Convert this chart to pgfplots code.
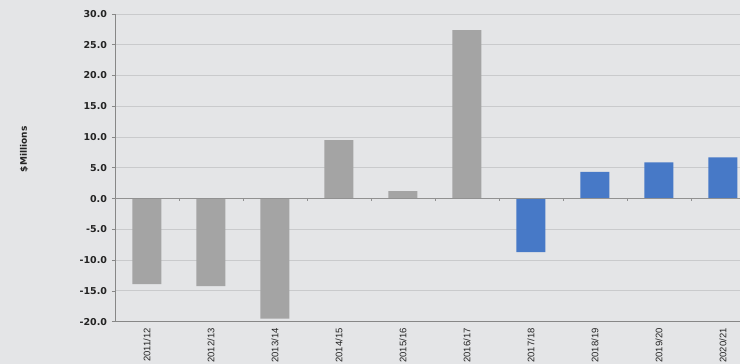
\documentclass[border=0pt]{standalone}
\usepackage{pgfplots}
\pgfplotsset{compat=1.18}
\usepackage{fontspec}
\setmainfont{Liberation Sans}
\newfontfamily\tickfont{DejaVu Sans}

\definecolor{bg}{RGB}{228,229,231}
\definecolor{gridc}{RGB}{201,202,204}
\definecolor{barg}{RGB}{164,164,164}
\definecolor{barb}{RGB}{71,121,199}
\definecolor{axisc}{RGB}{135,135,135}
\definecolor{zeroc}{RGB}{145,145,145}
\definecolor{txt}{RGB}{35,35,35}

\begin{document}
\begin{tikzpicture}
\fill[bg] (0pt,0pt) rectangle (740pt,364pt);
\useasboundingbox (0pt,0pt) rectangle (740pt,364pt);
\begin{axis}[
  at={(115pt,42.3pt)}, anchor=south west,
  scale only axis, width=625pt, height=307.7pt,
  xmin=-0.5, xmax=9.266, ymin=-20, ymax=30,
  axis x line*=bottom, axis y line*=left,
  axis line style={axisc, line width=0.9pt},
  ybar, bar width=29pt,
  ytick={-20,-15,...,30},
  yticklabels={-20.0,-15.0,-10.0,-5.0,0.0,5.0,10.0,15.0,20.0,25.0,30.0},
  yticklabel style={font=\tickfont\bfseries\fontsize{9.5}{10}\selectfont, text=txt, xshift=-1.5pt},
  xtick={0,...,9},
  xticklabels={2011/12,2012/13,2013/14,2014/15,2015/16,2016/17,2017/18,2018/19,2019/20,2020/21},
  xticklabel style={rotate=90, anchor=east, font=\fontsize{9.5}{10}\selectfont, text=txt},
  xtick style={draw=none},
  ytick style={axisc, line width=0.8pt},
  tick align=outside, major tick length=3pt,
  ymajorgrids, grid style={gridc, line width=0.9pt},
  ylabel={\$Millions},
  ylabel style={at={(axis description cs:-0.1456,0.56)}, anchor=center,
    font=\tickfont\bfseries\fontsize{9}{10}\selectfont, text=txt},
]
% outturn years
\addplot[fill=barg, draw=none, bar shift=0pt] coordinates {
  (0,-13.9) (1,-14.2) (2,-19.5) (3,9.5) (4,1.2) (5,27.4)
};
% forecast years
\addplot[fill=barb, draw=none, bar shift=0pt] coordinates {
  (6,-8.7) (7,4.35) (8,5.9) (9,6.7)
};
% category axis through zero, with its small tick marks
\draw[zeroc, line width=1pt] (axis cs:-0.5,0) -- (axis cs:9.266,0);
\pgfplotsinvokeforeach{0,...,8}{
  \draw[zeroc, line width=0.8pt] (axis cs:#1.5,0) -- ++(0pt,-2.5pt);
}
\end{axis}
\end{tikzpicture}
\end{document}
